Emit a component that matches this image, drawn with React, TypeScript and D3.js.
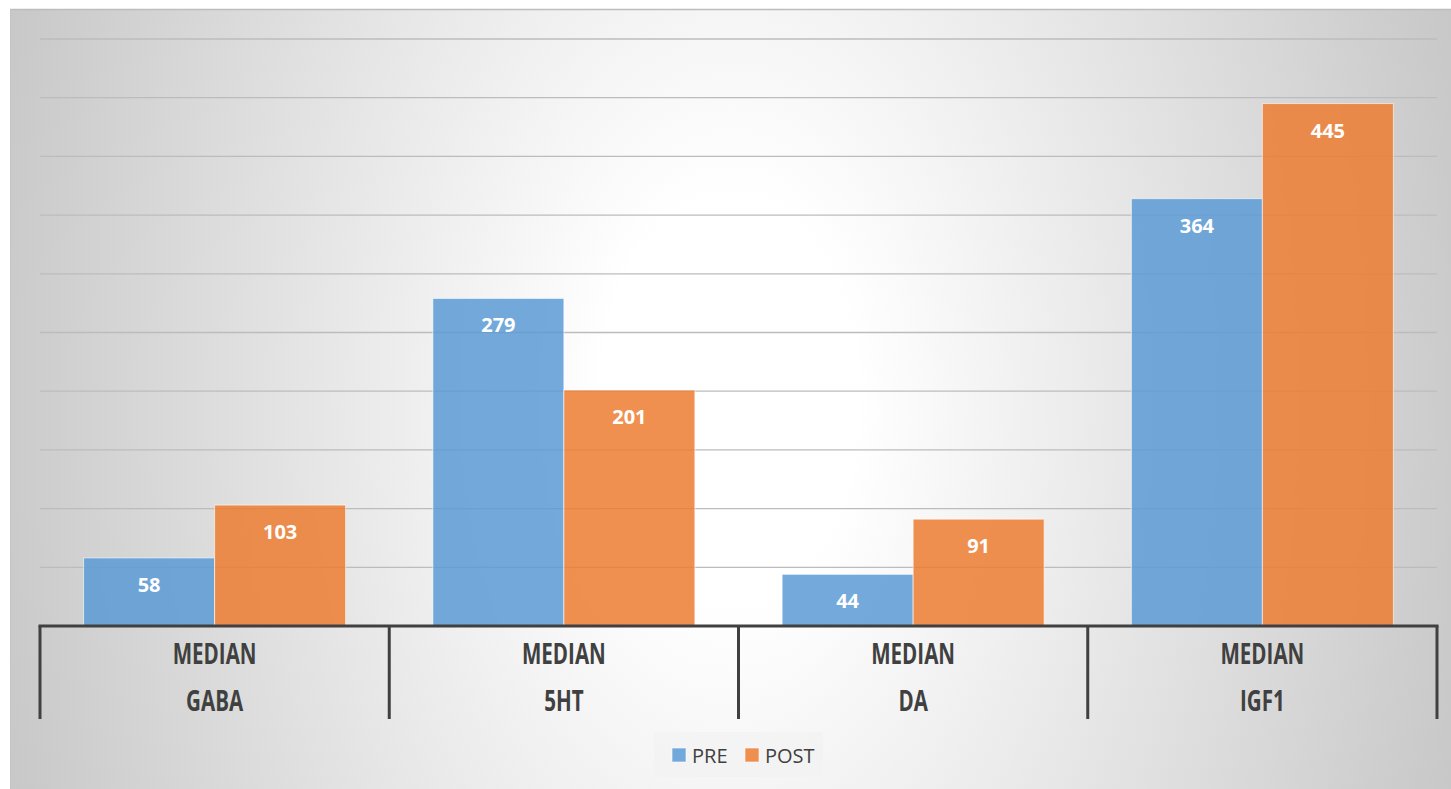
import React from "react";
import * as d3 from "d3";

const categories = ["GABA", "5HT", "DA", "IGF1"];
const categoryPrefix = "MEDIAN";
const seriesNames = ["PRE", "POST"];
const preValues = [58, 279, 44, 364];
const postValues = [103, 201, 91, 445];
const gridTicks = [50, 100, 150, 200, 250, 300, 350, 400, 450, 500];
const colors = ["#5B9BD5", "#ED7D31"];

const W = 1451;
const H = 789;

export default function App() {
  const left = 40;
  const right = 1437;
  const baseY = 626;
  const topY = 39;

  const x = d3.scaleBand<string>().domain(categories).range([left, right]).paddingInner(0).paddingOuter(0);
  const xs = d3.scaleBand<string>().domain(seriesNames).range([0, x.bandwidth()]).paddingInner(0).paddingOuter(0.333);
  const y = d3.scaleLinear().domain([0, 500]).range([baseY, topY]);

  const seriesValues = [preValues, postValues];
  const font = "'Open Sans', 'DejaVu Sans', sans-serif";
  const boundaries = categories.map((c) => x(c) as number).concat([right]);

  const gcx = 730;
  const gcy = 400;

  return (
    <svg width={W} height={H} style={{ position: "absolute", left: 0, top: 0, display: "block" }}>
      <defs>
        <radialGradient
          id="bg"
          gradientUnits="userSpaceOnUse"
          cx={gcx}
          cy={gcy}
          r={850}
          gradientTransform={`translate(${gcx},${gcy}) scale(1,1.6) translate(${-gcx},${-gcy})`}
        >
          <stop offset="0" stopColor="#ffffff" />
          <stop offset="0.15" stopColor="#ffffff" />
          <stop offset="1" stopColor="#c0c0c0" />
        </radialGradient>
      </defs>
      <rect x={0} y={0} width={W} height={H} fill="#ffffff" />
      <rect x={10} y={9} width={W - 10} height={H - 9} fill="url(#bg)" />
      <line x1={10} x2={W} y1={9.5} y2={9.5} stroke="#bdbdbd" strokeWidth={1.5} />
      <line x1={10.5} x2={10.5} y1={9} y2={H} stroke="#c4c4c4" strokeWidth={1} />

      {gridTicks.map((t) => (
        <line key={t} x1={left} x2={right} y1={y(t)} y2={y(t)} stroke="#bcbcbc" strokeWidth={1.3} />
      ))}

      {categories.map((c, ci) =>
        seriesNames.map((s, si) => {
          const v = seriesValues[si][ci];
          const bx = (x(c) as number) + (xs(s) as number);
          const bw = xs.bandwidth();
          return (
            <g key={c + s}>
              <rect
                x={bx}
                y={y(v)}
                width={bw}
                height={baseY - y(v)}
                fill={colors[si]}
                fillOpacity={0.85}
                stroke="#ffffff"
                strokeOpacity={0.6}
                strokeWidth={1}
              />
              <text
                x={bx + bw / 2}
                y={y(v) + 34}
                textAnchor="middle"
                fontFamily={font}
                fontWeight={700}
                fontSize={20}
                fill="#ffffff"
              >
                {v}
              </text>
            </g>
          );
        })
      )}

      <line x1={left - 1.5} x2={right + 1.5} y1={baseY} y2={baseY} stroke="#404040" strokeWidth={3} />
      {boundaries.map((bx, i) => (
        <line key={i} x1={bx} x2={bx} y1={baseY} y2={719} stroke="#404040" strokeWidth={3} />
      ))}

      {categories.map((c) => {
        const cx = (x(c) as number) + x.bandwidth() / 2;
        return (
          <g key={c} fill="#404040" fontFamily={font} fontWeight={700} fontSize={29}>
            <text transform={`translate(${cx},664) scale(0.71,1)`} textAnchor="middle">
              {categoryPrefix}
            </text>
            <text transform={`translate(${cx},711) scale(0.71,1)`} textAnchor="middle">
              {c}
            </text>
          </g>
        );
      })}

      <g>
        <rect x={654} y={732} width={169} height={45} fill="#f2f2f2" fillOpacity={0.8} />
        {seriesNames.map((s, i) => {
          const lx = i === 0 ? 672 : 745;
          return (
            <g key={s}>
              <rect x={lx} y={748} width={14} height={14} fill={colors[i]} fillOpacity={0.85} stroke="#ffffff" strokeOpacity={0.6} />
              <text x={lx + 20} y={762.5} fontFamily={font} fontSize={20} fill="#404040">
                {s}
              </text>
            </g>
          );
        })}
      </g>
    </svg>
  );
}
